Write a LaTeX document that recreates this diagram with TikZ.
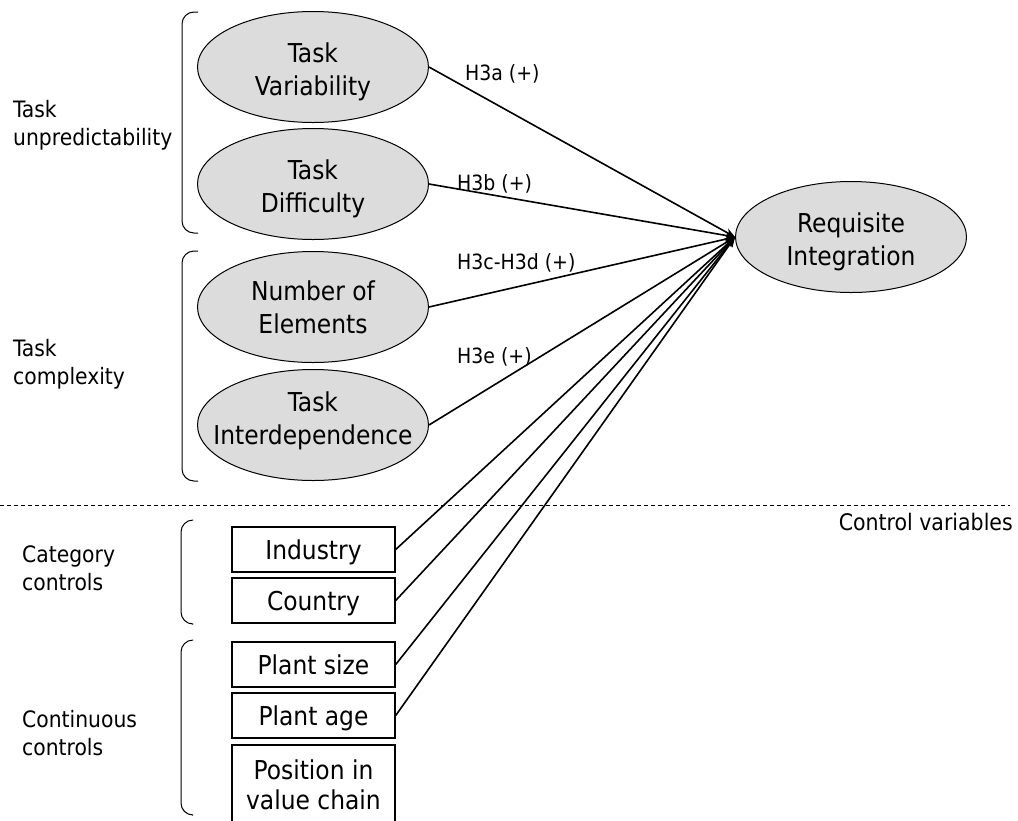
\documentclass[tikz,border=0pt]{standalone}
\usepackage{fontspec}
\setmainfont{DejaVu Sans Condensed}
\usetikzlibrary{shapes.geometric,arrows.meta}
\definecolor{nodefill}{RGB}{220,220,220}
% invisible struts that move a two-line label down or up inside its shape
\newcommand{\capstrut}{\rule{0pt}{30pt}}
\newcommand{\footstrut}{\rule[-14pt]{0pt}{0pt}}
\tikzset{
  construct/.style={ellipse, draw, line width=1pt, fill=nodefill,
    minimum width=231pt, minimum height=111pt, inner xsep=-40pt, inner ysep=0pt,
    align=center, font=\fontsize{26}{33}\selectfont},
  ctrlbox/.style={rectangle, draw, line width=1.4pt, minimum width=163pt,
    minimum height=45pt, inner sep=0pt, align=center,
    text height=25pt, text depth=6pt,
    font=\fontsize{26}{30}\selectfont},
  tallbox/.style={ctrlbox, minimum height=79pt, text height=, text depth=},
  grouplabel/.style={anchor=west, align=left, inner sep=0pt,
    font=\fontsize{22.6}{28}\selectfont},
  hyplabel/.style={anchor=west, inner sep=0pt, font=\fontsize{21}{25}\selectfont},
  link/.style={line width=1.6pt, -{Stealth[length=10pt,width=8pt]}},
  bracket/.style={line width=1pt, rounded corners=12pt}
}
\begin{document}
\begin{tikzpicture}[x=1pt,y=-1pt]
\useasboundingbox (0,0) rectangle (1018,820);
\clip (0,0) rectangle (1018,820);

% antecedent constructs
\node[construct] (tv) at (313,67)  {\capstrut Task\\Variability};
\node[construct] (td) at (313,184) {\capstrut Task\\Difficulty};
\node[construct] (ne) at (313,307) {Number of\\Elements};
\node[construct] (ti) at (313,425) {Task\\Interdependence\footstrut};

% outcome
\node[construct] (ri) at (851,237) {\capstrut Requisite\\Integration};

% control variables
\node[ctrlbox] (ind) at (313.5,549.5) {Industry};
\node[ctrlbox] (cty) at (313.5,600.5) {Country};
\node[ctrlbox] (psz) at (313.5,664.5) {Plant size};
\node[ctrlbox] (page) at (313.5,715.5) {Plant age};
\node[tallbox] (pos) at (313.5,784.5) {Position in\\value chain};

% group labels
\node[grouplabel] (gu) at (13,125)   {Task\\unpredictability};
\node[grouplabel] (gc) at (13,364.5) {Task\\complexity};
\node[grouplabel] (gk) at (22,568.5) {Category\\controls};
\node[grouplabel] (gn) at (22,733)   {Continuous\\controls};

% brackets grouping the constructs
\draw[bracket] (198,12)  -- (182,12)  -- (182,233) -- (198,233);
\draw[bracket] (198,251) -- (182,251) -- (182,481) -- (198,481);
\draw[bracket] (192,520) -- (181,520) -- (181,624) -- (192,624);
\draw[bracket] (192,640) -- (181,640) -- (181,815) -- (192,815);

% separator for the control variables
\draw[line width=1pt, dash pattern=on 4pt off 3pt] (0,505) -- (1010,505);
\node[anchor=east, inner sep=0pt, font=\fontsize{22.8}{27}\selectfont] (cv) at (1013,522) {Control variables};

% hypothesised paths
\draw[link] (tv.east) -- (ri.west);
\draw[link] (td.east) -- (ri.west);
\draw[link] (ne.east) -- (ri.west);
\draw[link] (ti.east) -- (ri.west);
\draw[link] (ind.east) -- (ri.west);
\draw[link] (cty.east) -- (ri.west);
\draw[link] (psz.east) -- (ri.west);
\draw[link] (page.east) -- (ri.west);

% path labels
\node[hyplabel] (h3a) at (465,74)  {H3a (+)};
\node[hyplabel] (h3b) at (457,184) {H3b (+)};
\node[hyplabel] (h3c) at (457,263) {H3c-H3d (+)};
\node[hyplabel] (h3e) at (457,357) {H3e (+)};
\end{tikzpicture}
\end{document}
